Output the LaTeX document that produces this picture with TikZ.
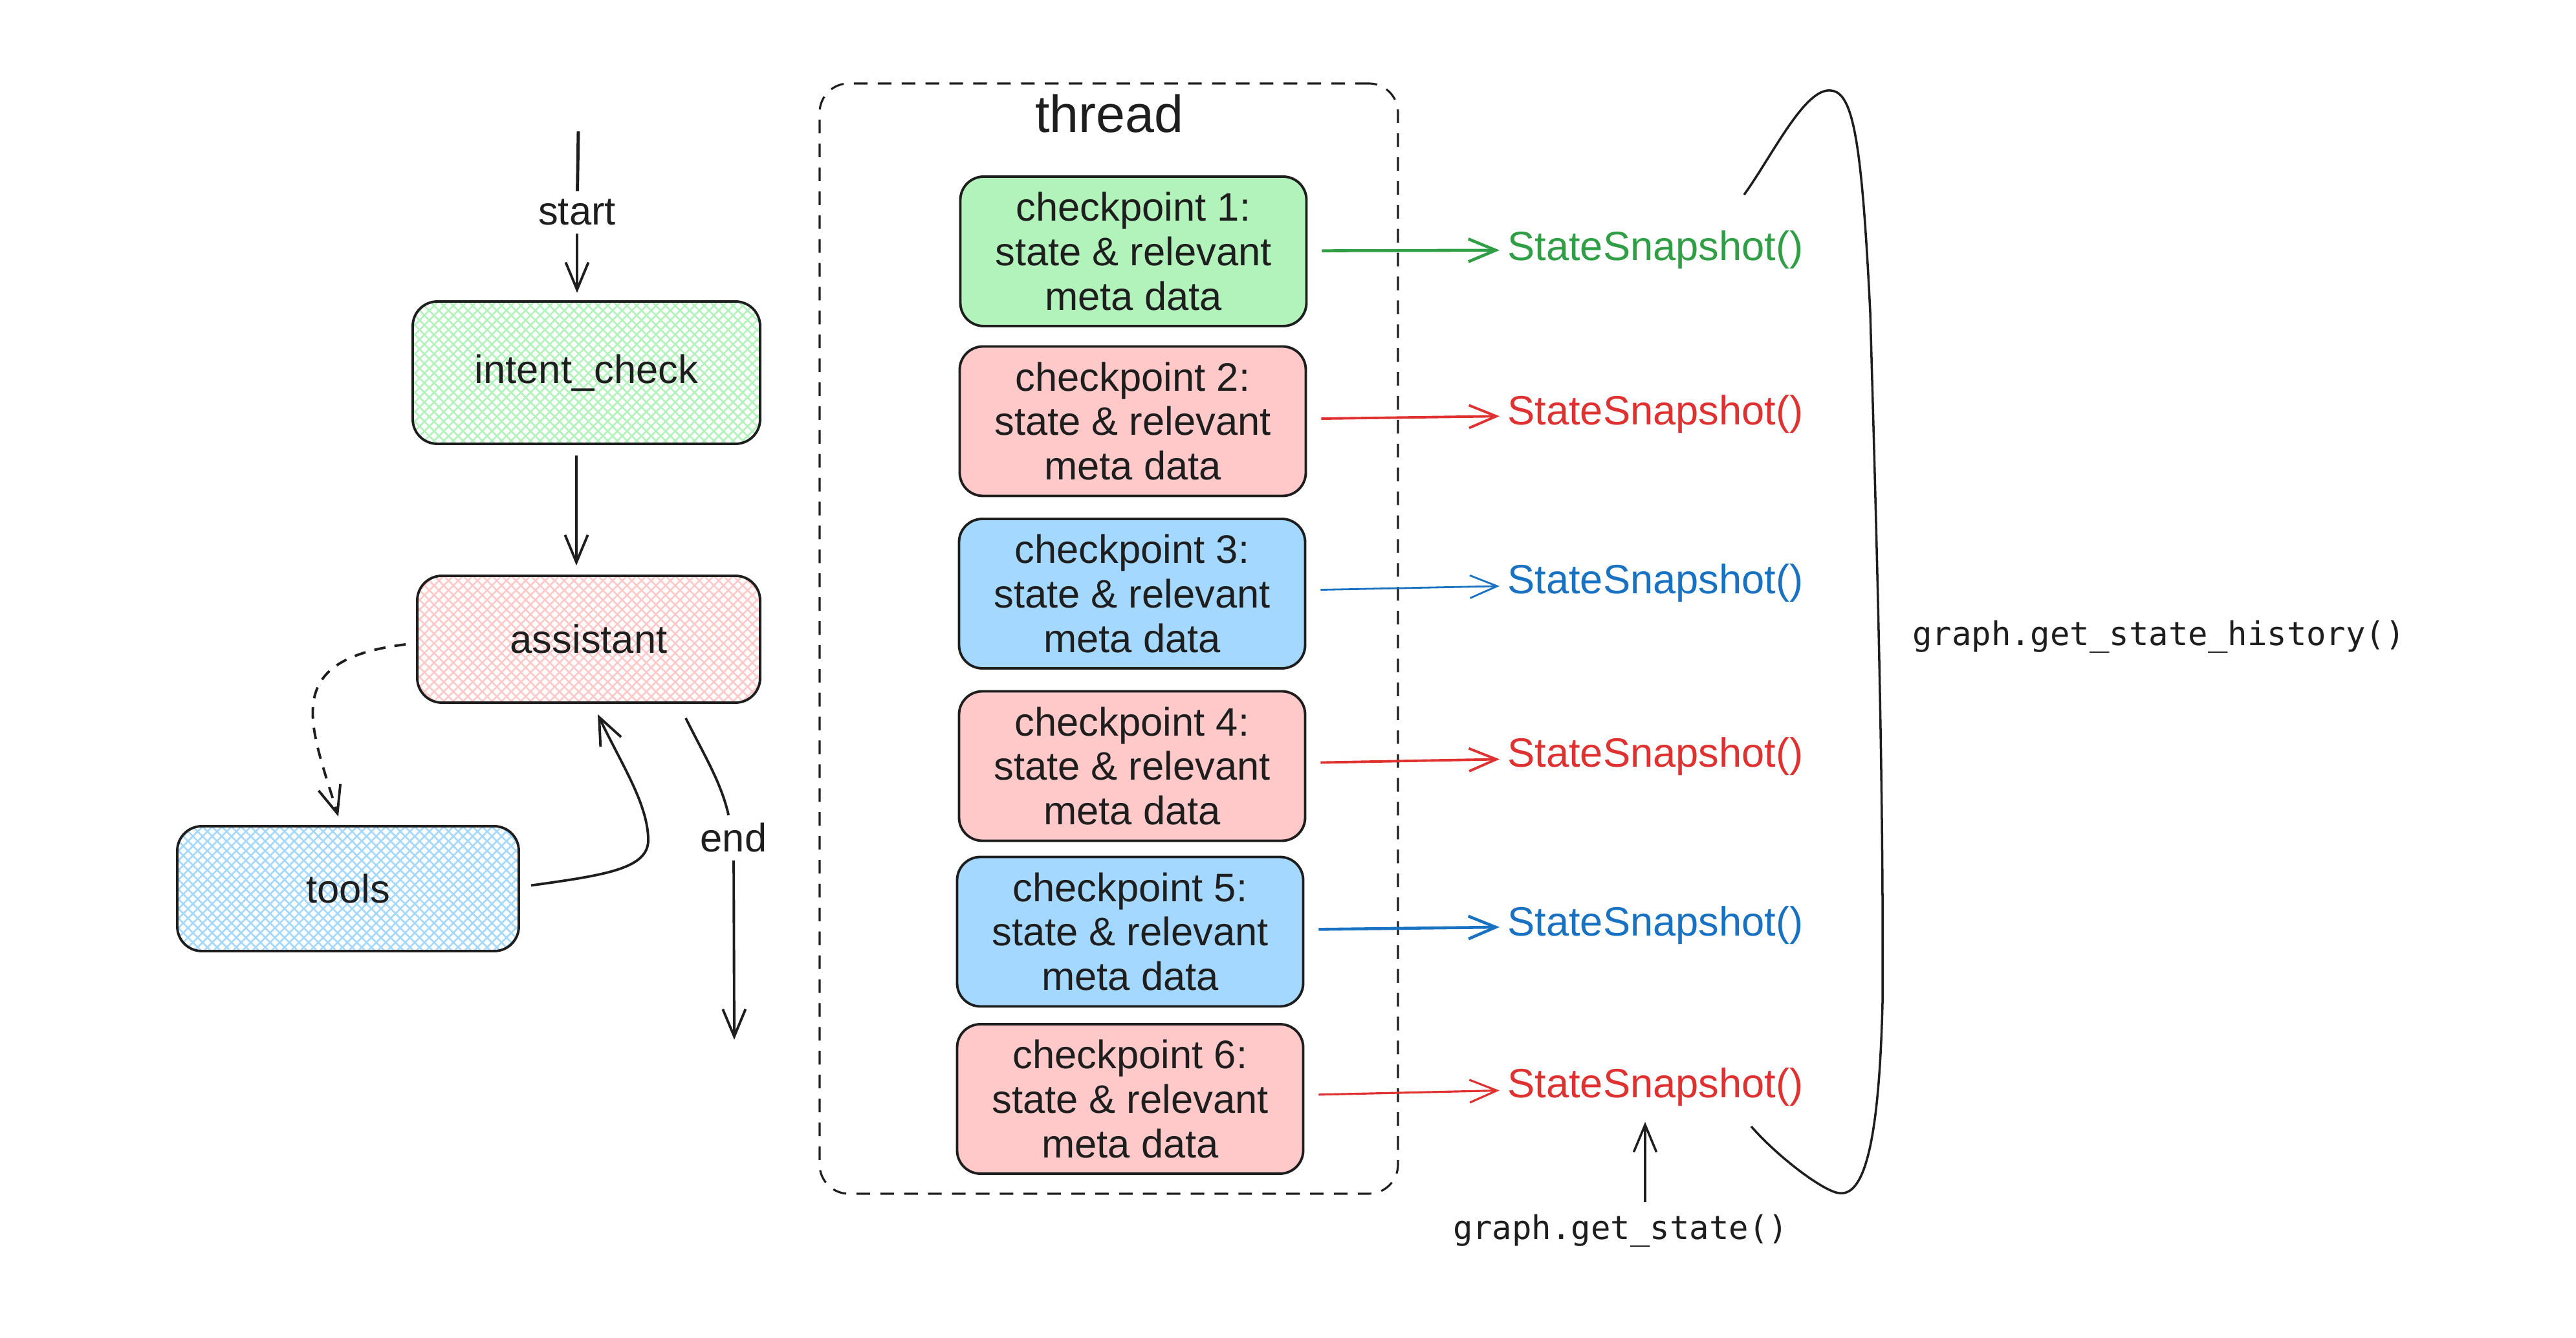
\documentclass[tikz,border=0pt]{standalone}
\usepackage{fontspec}
\setmainfont{Liberation Sans}
\newfontfamily\codefont{DejaVu Sans Mono}
\usetikzlibrary{arrows.meta,patterns.meta}
\definecolor{ink}{HTML}{1E1E1E}
\definecolor{fillgrn}{HTML}{B2F2BB}
\definecolor{fillred}{HTML}{FFC9C9}
\definecolor{fillblue}{HTML}{A5D8FF}
\definecolor{linegrn}{HTML}{2F9E44}
\definecolor{linered}{HTML}{E03131}
\definecolor{lineblue}{HTML}{1971C2}
\begin{document}
\begin{tikzpicture}[x=1cm, y=-1cm,
	every node/.style={font=\fontsize{17.5}{19.6}\selectfont, text=ink},
	arr/.style={-{Straight Barb[length=12pt,width=10pt]}, line width=1.1pt, draw=ink},
	hatch/.style={preaction={pattern={Lines[angle=45,distance=3pt,line width=0.75pt]}, pattern color=#1},
		pattern={Lines[angle=-45,distance=3pt,line width=0.75pt]}, pattern color=#1},
	nodebox/.style={draw=ink, line width=1.1pt, rounded corners=0.38cm},
	cpbox/.style={draw=ink, line width=1.1pt, rounded corners=0.36cm, fill=#1,
		minimum width=5.35cm, minimum height=2.31cm, align=center},
	snaplbl/.style={anchor=west, text=#1, font=\fontsize{18}{20}\selectfont},
	code/.style={font=\codefont\fontsize{14.4}{16}\selectfont}]
	\useasboundingbox (0,0) rectangle (39.82,20.68);

	% graph
	\node[nodebox, hatch=fillgrn, minimum width=5.37cm, minimum height=2.20cm] (intent) at (9.065,5.76) {intent\_check};
	\node[nodebox, hatch=fillred, minimum width=5.30cm, minimum height=1.96cm] (assistant) at (9.10,9.88) {assistant};
	\node[nodebox, hatch=fillblue, minimum width=5.28cm, minimum height=1.93cm] (tools) at (5.38,13.735) {tools};

	\coordinate (entry) at (8.94,2.03);
	\node (start) at (8.92,3.28) {start};
	\draw[ink, line width=1.4pt] (entry) -- (start);
	\draw[arr, shorten >=0.12cm] (start) -- (start |- intent.north);
	\draw[arr, shorten <=0.17cm, shorten >=0.14cm] ([xshift=-0.155cm]intent.south) -- ([xshift=-0.155cm]intent.south |- assistant.north);

	\draw[arr, dash pattern=on 5pt off 4pt] ([xshift=-0.16cm,yshift=-0.08cm]assistant.west) .. controls (4.3,10.2) and (4.8,11.2) .. ([xshift=-0.15cm,yshift=0.13cm]tools.north);
	\draw[arr] ([xshift=0.17cm,yshift=0.05cm]tools.east) .. controls (9.4,13.52) and (10.05,13.42) .. (10.02,12.95)
		.. controls (10.0,12.4) and (9.6,11.8) .. ([xshift=0.14cm,yshift=-0.16cm]assistant.south);

	\node (finish) at (11.34,12.95) {end};
	\coordinate (exit) at (11.35,16.07);
	\draw[ink, line width=1.1pt] ([xshift=1.5cm,yshift=-0.22cm]assistant.south) .. controls (10.9,11.7) and (11.15,12.1) .. (finish);
	\draw[arr] (finish) -- (exit);

	% thread with checkpoints
	\node[draw=ink, line width=0.9pt, dash pattern=on 6pt off 4.5pt, rounded corners=0.45cm,
		minimum width=8.94cm, minimum height=17.16cm] (threadbox) at (17.14,9.87) {};
	\node[font=\fontsize{23}{26}\selectfont] (thread) at (17.15,1.76) {thread};

	\foreach \i/\cx/\cy/\sy/\col/\lw in {1/17.52/3.885/3.86/grn/1.3pt, 2/17.51/6.51/6.40/red/1.1pt,
		3/17.5/9.175/9.01/blue/0.8pt, 4/17.5/11.84/11.69/red/1.1pt,
		5/17.47/14.40/14.30/blue/1.3pt, 6/17.47/16.985/16.80/red/0.9pt} {
		\node[cpbox=fill\col] (cp\i) at (\cx,\cy) {checkpoint \i:\\state \& relevant\\meta data};
		\node[snaplbl=line\col] (snap\i) at (23.18,\sy) {StateSnapshot()};
		\draw[arr, draw=line\col, line width=\lw, shorten <=0.22cm] (cp\i) -- (snap\i);
	}

	% history bracket
	\draw[ink, line width=1pt] (26.96,3.01) .. controls (27.4,2.4) and (27.9,1.35) .. (28.30,1.40)
		.. controls (28.65,1.42) and (28.78,2.2) .. (28.91,4.83)
		.. controls (29.0,8.0) and (29.12,12) .. (29.10,15.5)
		.. controls (29.05,17.5) and (28.85,18.5) .. (28.43,18.44)
		.. controls (28.2,18.42) and (27.5,17.9) .. (27.07,17.41);
	\node[code] (history) at (33.37,9.84) {graph.get\_state\_history()};

	\node[code] (getstate) at (25.05,19.02) {graph.get\_state()};
	\draw[arr, line width=1pt, shorten <=0.06cm, shorten >=0.12cm] ([xshift=0.38cm]getstate.north) -- ([xshift=0.38cm]getstate.north |- snap6.south);
\end{tikzpicture}
\end{document}
